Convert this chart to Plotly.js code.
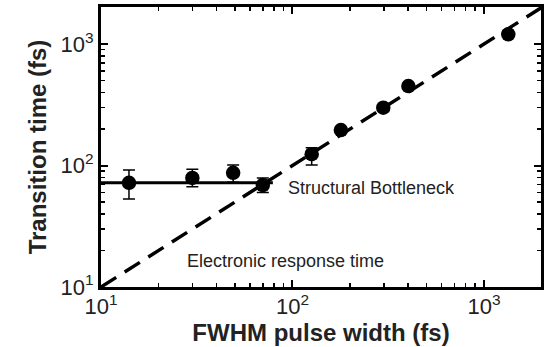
<!DOCTYPE html>
<html>
<head>
<meta charset="utf-8">
<script src="https://cdn.plot.ly/plotly-3.0.1.min.js"></script>
<style>
  html, body { margin: 0; padding: 0; background: #fff; }
  #chart { width: 549px; height: 347px; }
</style>
</head>
<body>
<div id="chart"></div>
<script>
// Measured transition times vs. pump pulse width (fs)
const pulseWidth = [14, 30, 49, 70, 126, 179, 298, 403, 1340];
const transitionTime = [72, 79, 87, 69, 124, 196, 299, 451, 1202];
const errPlus = [20, 14, 14, 10, 16, null, null, null, null];
const errMinus = [19, 12, 14, 9, 23, null, null, null, null];

// Structural bottleneck plateau
const plateauX = [10, 79];
const plateauY = [72, 72];

// Electronic response time (t = FWHM)
const responseX = [10, 2000];
const responseY = [10, 2000];

// Decade ticks
const decadeVals = [10, 100, 1000];
const decadeText = ['10<sup>1</sup>', '10<sup>2</sup>', '10<sup>3</sup>'];

const FONT = '"Liberation Sans", Arial, Helvetica, sans-serif';

const traces = [
  {
    x: responseX, y: responseY, mode: 'lines', type: 'scatter',
    line: { color: '#000', width: 3.5, dash: '18px,10px' },
    hoverinfo: 'skip', showlegend: false
  },
  {
    x: plateauX, y: plateauY, mode: 'lines', type: 'scatter',
    line: { color: '#000', width: 3 },
    hoverinfo: 'skip', showlegend: false
  },
  {
    x: pulseWidth, y: transitionTime, mode: 'markers', type: 'scatter',
    marker: { color: '#000', size: 14.5 },
    error_y: {
      type: 'data', symmetric: false,
      array: errPlus, arrayminus: errMinus,
      color: '#000', thickness: 1.5, width: 6
    },
    showlegend: false
  }
];

const axisCommon = {
  type: 'log',
  showline: true, linecolor: '#000', linewidth: 3,
  mirror: 'allticks',
  ticks: 'inside', ticklen: 7, tickwidth: 2, tickcolor: '#000',
  tickmode: 'array', tickvals: decadeVals, ticktext: decadeText,
  showgrid: false, zeroline: false,
  tickfont: { family: FONT, size: 22, color: '#222' },
  minor: { ticks: 'inside', ticklen: 4, tickwidth: 1.5, tickcolor: '#000', dtick: 'D1', showgrid: false }
};

const layout = {
  width: 549, height: 347,
  margin: { l: 101, r: 8, t: 7, b: 60 },
  paper_bgcolor: '#fff', plot_bgcolor: '#fff',
  font: { family: FONT, color: '#000' },
  xaxis: Object.assign({}, axisCommon, {
    range: [1, 3.298],
    ticklabelstandoff: -2,
    title: { text: '<b>FWHM pulse width (fs)</b>', font: { family: FONT, size: 24, color: '#222' }, standoff: 1 }
  }),
  yaxis: Object.assign({}, axisCommon, {
    range: [1, 3.305],
    title: { text: '<b>Transition time (fs)</b>', font: { family: FONT, size: 24, color: '#222' }, standoff: 8 }
  }),
  annotations: [
    {
      xref: 'paper', yref: 'paper', x: 0.42, y: 0.355,
      xanchor: 'left', yanchor: 'middle', showarrow: false,
      text: 'Structural Bottleneck',
      font: { family: FONT, size: 18, color: '#222' }
    },
    {
      xref: 'paper', yref: 'paper', x: 0.19, y: 0.093,
      xanchor: 'left', yanchor: 'middle', showarrow: false,
      text: 'Electronic response time',
      font: { family: FONT, size: 18, color: '#222' }
    }
  ]
};

Plotly.newPlot('chart', traces, layout, { staticPlot: true, displayModeBar: false });
</script>
</body>
</html>
